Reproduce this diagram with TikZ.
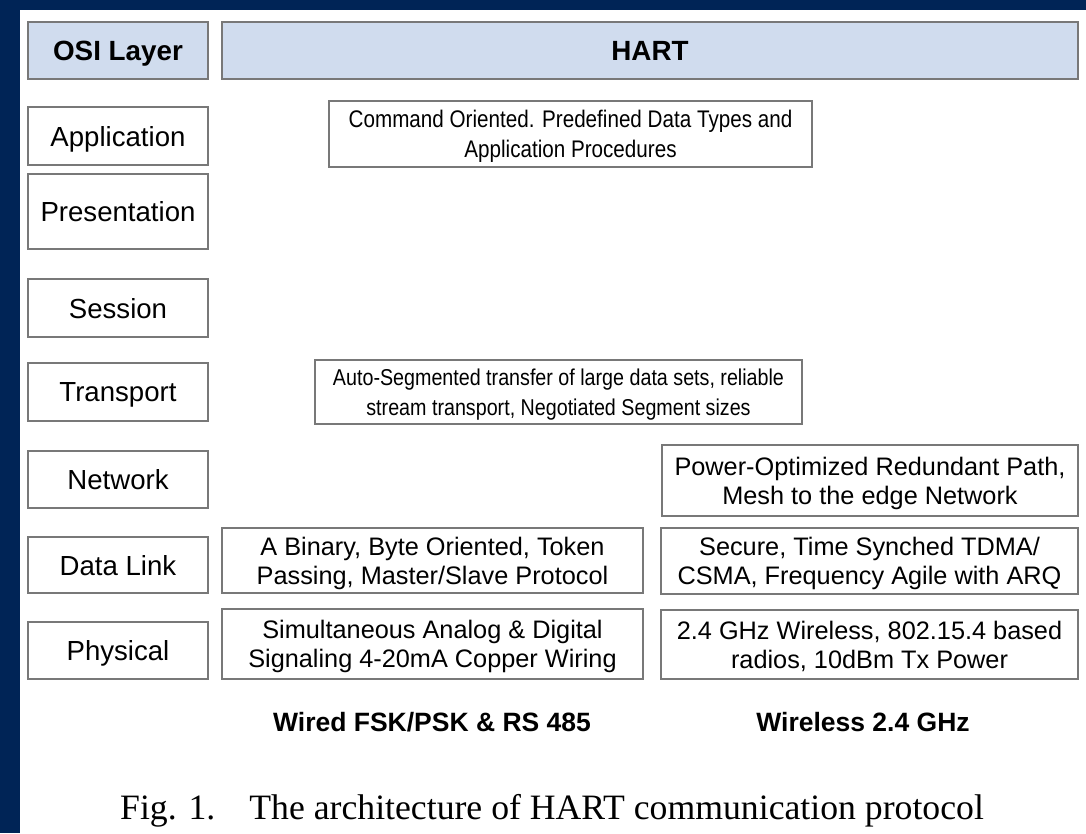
\documentclass[tikz,border=0pt]{standalone}
\usepackage{fontspec}
\setmainfont{Liberation Serif}
\setsansfont{Liberation Sans}
\newfontfamily\narrowsans[FakeStretch=0.86]{Liberation Sans}
\definecolor{navy}{RGB}{0,36,86}
\definecolor{headblue}{RGB}{208,220,238}
\definecolor{boxline}{RGB}{120,120,120}
\tikzset{
  layerbox/.style={draw=boxline, line width=1.5pt, fill=white, inner sep=0pt,
    text depth=0pt, align=center, font=\sffamily\fontsize{27.6}{32}\selectfont},
  headbox/.style={layerbox, fill=headblue, font=\sffamily\bfseries\fontsize{27.8}{32}\selectfont},
  descbox/.style={layerbox, font=\sffamily\fontsize{25.3}{29}\selectfont},
  narrowbox/.style={layerbox, font=\narrowsans\fontsize{24}{30}\selectfont},
  footlabel/.style={inner sep=0pt, font=\sffamily\bfseries\fontsize{26.5}{30}\selectfont}
}
\begin{document}
\begin{tikzpicture}[x=1pt, y=-1pt]
  \useasboundingbox (0,0) rectangle (1086,833);
  % page background and frame strips
  \fill[white] (0,0) rectangle (1086,833);
  \fill[navy] (0,0) rectangle (1086,10);
  \fill[navy] (0,0) rectangle (20,833);

  % header row
  \node[headbox, minimum width=180pt, minimum height=57pt] (osi) at (118,50.5) {OSI Layer};
  \node[headbox, minimum width=856pt, minimum height=57pt] (hart) at (650,50.5) {HART};

  % OSI layers
  \node[layerbox, minimum width=180pt, minimum height=58pt] (app) at (118,136) {Application};
  \node[layerbox, minimum width=180pt, minimum height=75pt] (pres) at (118,211.5) {Presentation};
  \node[layerbox, minimum width=180pt, minimum height=58pt] (sess) at (118,308) {Session};
  \node[layerbox, minimum width=180pt, minimum height=58pt] (trans) at (118,392) {Transport};
  \node[layerbox, minimum width=180pt, minimum height=57pt] (net) at (118,479.5) {Network};
  \node[layerbox, minimum width=180pt, minimum height=56pt] (dl) at (118,565) {Data Link};
  \node[layerbox, minimum width=180pt, minimum height=57pt] (phy) at (118,650.5) {Physical};

  % HART layer descriptions
  \node[narrowbox, minimum width=483pt, minimum height=66pt] (appdesc) at (570.5,134)
    {Command Oriented. Predefined Data Types and\\Application Procedures};
  \node[narrowbox, font=\narrowsans\fontsize{22.9}{30}\selectfont,
        minimum width=487pt, minimum height=64pt] (transdesc) at (558.5,392)
    {Auto-Segmented transfer of large data sets, reliable\\stream transport, Negotiated Segment sizes};
  \node[descbox, minimum width=416pt, minimum height=71pt] (netwl) at (870,480.5)
    {Power-Optimized Redundant Path,\\Mesh to the edge Network};
  \node[descbox, minimum width=421pt, minimum height=65pt] (dlwired) at (432.5,560.5)
    {A Binary, Byte Oriented, Token\\Passing, Master/Slave Protocol};
  \node[descbox, minimum width=417pt, minimum height=66pt] (dlwl) at (869.5,561)
    {Secure, Time Synched TDMA/\\CSMA, Frequency Agile with ARQ};
  \node[descbox, minimum width=421pt, minimum height=70pt] (phywired) at (432.5,644)
    {Simultaneous Analog \& Digital\\Signaling 4-20mA Copper Wiring};
  \node[descbox, minimum width=417pt, minimum height=69pt] (phywl) at (869.5,644.5)
    {2.4 GHz Wireless, 802.15.4 based\\radios, 10dBm Tx Power};

  % column labels
  \node[footlabel] (wired) at (432,722) {Wired FSK/PSK \& RS 485};
  \node[footlabel] (wireless) at (863,722) {Wireless 2.4 GHz};

  % caption
  \node[anchor=base west, inner sep=0pt, font=\rmfamily\fontsize{35.7}{40}\selectfont] (caption) at (120,819)
    {Fig. 1.\hspace{34pt}The architecture of HART communication protocol};
\end{tikzpicture}
\end{document}
